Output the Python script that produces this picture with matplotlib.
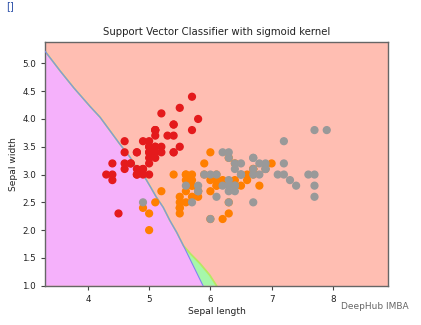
import numpy as np
import matplotlib
matplotlib.use("Agg")
import matplotlib.pyplot as plt

# iris: sepal length / sepal width, classes 0=setosa 1=versicolor 2=virginica
sepal_length = [
    5.1, 4.9, 4.7, 4.6, 5.0, 5.4, 4.6, 5.0, 4.4, 4.9, 5.4, 4.8, 4.8, 4.3, 5.8, 5.7, 5.4, 5.1, 5.7, 5.1,
    5.4, 5.1, 4.6, 5.1, 4.8, 5.0, 5.0, 5.2, 5.2, 4.7, 4.8, 5.4, 5.2, 5.5, 4.9, 5.0, 5.5, 4.9, 4.4, 5.1,
    5.0, 4.5, 4.4, 5.0, 5.1, 4.8, 5.1, 4.6, 5.3, 5.0,
    7.0, 6.4, 6.9, 5.5, 6.5, 5.7, 6.3, 4.9, 6.6, 5.2, 5.0, 5.9, 6.0, 6.1, 5.6, 6.7, 5.6, 5.8, 6.2, 5.6,
    5.9, 6.1, 6.3, 6.1, 6.4, 6.6, 6.8, 6.7, 6.0, 5.7, 5.5, 5.5, 5.8, 6.0, 5.4, 6.0, 6.7, 6.3, 5.6, 5.5,
    5.5, 6.1, 5.8, 5.0, 5.6, 5.7, 5.7, 6.2, 5.1, 5.7,
    6.3, 5.8, 7.1, 6.3, 6.5, 7.6, 4.9, 7.3, 6.7, 7.2, 6.5, 6.4, 6.8, 5.7, 5.8, 6.4, 6.5, 7.7, 7.7, 6.0,
    6.9, 5.6, 7.7, 6.3, 6.7, 7.2, 6.2, 6.1, 6.4, 7.2, 7.4, 7.9, 6.4, 6.3, 6.1, 7.7, 6.3, 6.4, 6.0, 6.9,
    6.7, 6.9, 5.8, 6.8, 6.7, 6.7, 6.3, 6.5, 6.2, 5.9,
]
sepal_width = [
    3.5, 3.0, 3.2, 3.1, 3.6, 3.9, 3.4, 3.4, 2.9, 3.1, 3.7, 3.4, 3.0, 3.0, 4.0, 4.4, 3.9, 3.5, 3.8, 3.8,
    3.4, 3.7, 3.6, 3.3, 3.4, 3.0, 3.4, 3.5, 3.4, 3.2, 3.1, 3.4, 4.1, 4.2, 3.1, 3.2, 3.5, 3.6, 3.0, 3.4,
    3.5, 2.3, 3.2, 3.5, 3.8, 3.0, 3.8, 3.2, 3.7, 3.3,
    3.2, 3.2, 3.1, 2.3, 2.8, 2.8, 3.3, 2.4, 2.9, 2.7, 2.0, 3.0, 2.2, 2.9, 2.9, 3.1, 3.0, 2.7, 2.2, 2.5,
    3.2, 2.8, 2.5, 2.8, 2.9, 3.0, 2.8, 3.0, 2.9, 2.6, 2.4, 2.4, 2.7, 2.7, 3.0, 3.4, 3.1, 2.3, 3.0, 2.5,
    2.6, 3.0, 2.6, 2.3, 2.7, 3.0, 2.9, 2.9, 2.5, 2.8,
    3.3, 2.7, 3.0, 2.9, 3.0, 3.0, 2.5, 2.9, 2.5, 3.6, 3.2, 2.7, 3.0, 2.5, 2.8, 3.2, 3.0, 3.8, 2.6, 2.2,
    3.2, 2.8, 2.8, 2.7, 3.3, 3.2, 2.8, 3.0, 2.8, 3.0, 2.8, 3.8, 2.8, 2.8, 2.6, 3.0, 3.4, 3.1, 3.0, 3.1,
    3.1, 3.1, 2.7, 3.2, 3.3, 3.0, 2.5, 3.0, 3.4, 3.0,
]
species = [0] * 50 + [1] * 50 + [2] * 50

# predicted decision boundaries (sigmoid-kernel SVC)
edge_x = [3.3, 3.55, 3.77, 4.04, 4.20, 4.36, 4.52, 4.69, 4.82, 4.93, 5.01, 5.12, 5.23, 5.34, 5.45, 5.56]
edge_y = [5.22, 4.86, 4.56, 4.22, 4.03, 3.79, 3.55, 3.31, 3.07, 2.95, 2.80, 2.59, 2.41, 2.17, 1.96, 1.72]
low_x = [5.56, 5.88]
low_y = [1.72, 1.0]
up_x = [5.56, 5.67, 5.83, 5.99, 6.10]
up_y = [1.72, 1.58, 1.40, 1.19, 1.0]

x_min, x_max = 3.3, 8.9
y_min, y_max = 1.0, 5.39

fig = plt.figure(figsize=(4.21, 3.25), dpi=100)
ax = fig.add_axes([0.1069, 0.1209, 0.8147, 0.7508])
ax.set_facecolor("#ffbeb2")

# setosa region (left of boundary)
bx = edge_x + low_x[1:]
by = edge_y + low_y[1:]
ax.fill([x_min] + bx + [x_min], [by[0]] + by + [y_min], color="#f5b1fb", lw=0, zorder=1)
# versicolor wedge
wx = low_x + up_x[::-1]
wy = low_y + up_y[::-1]
ax.fill(wx, wy, color="#a6f7aa", lw=0, zorder=1)

ax.plot(edge_x + up_x[1:], edge_y + up_y[1:], color="#b8e860", lw=1.3, zorder=2)
ax.plot(bx, by, color="#7f86f0", lw=0.8, zorder=3)

ax.scatter(sepal_length, sepal_width, c=species, cmap=plt.cm.Set1, s=24, zorder=4)

ax.set_xlim(x_min, x_max)
ax.set_ylim(y_min, y_max)
ax.set_xticks([4, 5, 6, 7, 8])
ax.set_yticks([1.0, 1.5, 2.0, 2.5, 3.0, 3.5, 4.0, 4.5, 5.0])
ax.tick_params(labelsize=6.3, length=3, width=0.8, color="#444444", labelcolor="#222222")
for s in ax.spines.values():
    s.set_color("#666666")
    s.set_linewidth(1.0)

ax.set_xlabel("Sepal length", fontsize=6.6, color="#222222", labelpad=2)
ax.set_ylabel("Sepal width", fontsize=6.6, color="#222222", labelpad=3)
ax.set_title("Support Vector Classifier with sigmoid kernel", fontsize=7.3, color="#222222", pad=5)

fig.text(0.015, 0.982, "[]", fontsize=7, color="#2a4fa8", va="center", ha="left")
fig.text(0.97, 0.058, "DeepHub IMBA", fontsize=6.5, color="#666666", ha="right", va="center")

fig.savefig("out.png", dpi=100)
